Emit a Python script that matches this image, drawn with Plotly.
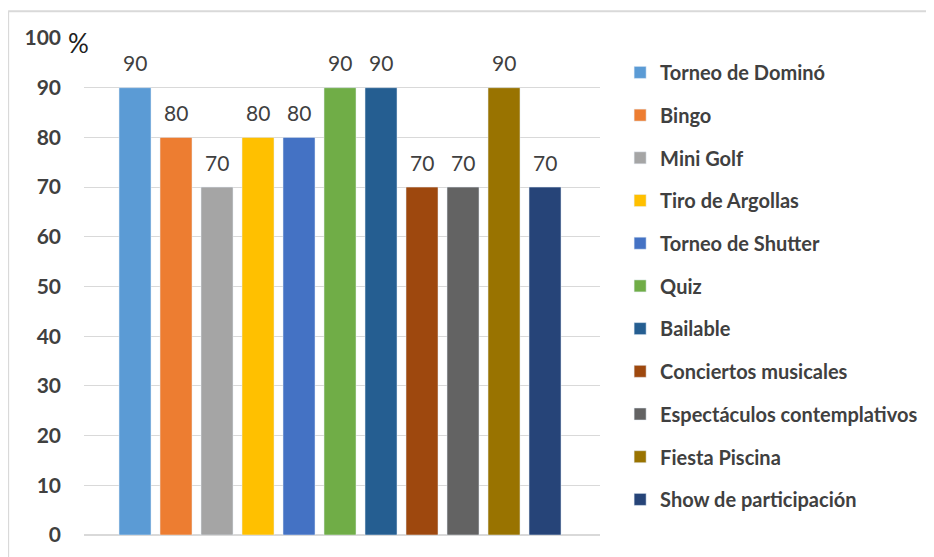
import plotly.graph_objects as go

actividades = ["Torneo de Dominó", "Bingo", "Mini Golf", "Tiro de Argollas",
               "Torneo de Shutter", "Quiz", "Bailable", "Conciertos musicales",
               "Espectáculos contemplativos", "Fiesta Piscina", "Show de participación"]
porcentajes = [90, 80, 70, 80, 80, 90, 90, 70, 70, 90, 70]
colores = ["#5B9BD5", "#ED7D31", "#A5A5A5", "#FFC000", "#4472C4", "#70AD47",
           "#255E91", "#9E480E", "#636363", "#997300", "#264478"]

fig = go.Figure()
for i, (nombre, valor, color) in enumerate(zip(actividades, porcentajes, colores)):
    fig.add_trace(go.Bar(x=[i], y=[valor], name=nombre, marker_color=color,
                         width=0.78, legendgroup=nombre, hoverinfo="name+y"))
    fig.add_annotation(x=i, y=valor, text=str(valor), showarrow=False, yshift=25,
                       font=dict(size=21, color="#404040", family="Lato"))

fig.add_annotation(xref="paper", yref="paper", x=-0.0097, y=0.99, text="%",
                   xanchor="center", yanchor="middle", showarrow=False,
                   font=dict(size=26, color="#202020", family="Lato"))

# borde del gráfico (solo arriba e izquierda)
fig.add_shape(type="line", xref="paper", yref="paper", x0=-0.147, x1=1.8,
              y0=1.054, y1=1.054, line=dict(color="#d9d9d9", width=2))
fig.add_shape(type="line", xref="paper", yref="paper", x0=-0.147, x1=-0.147,
              y0=-0.1, y1=1.054, line=dict(color="#d9d9d9", width=2))

fig.update_layout(
    width=934, height=557,
    margin=dict(l=76, r=342, t=30, b=30),
    plot_bgcolor="white", paper_bgcolor="white",
    showlegend=True,
    legend=dict(x=1.039, y=0.97, yanchor="top", xanchor="left",
                font=dict(size=20, color="#404040", family="Lato", weight="bold"),
                tracegroupgap=13.7, itemclick=False),
    xaxis=dict(range=[-1.244, 11.341], showticklabels=False, showgrid=False,
               zeroline=False, fixedrange=True),
    yaxis=dict(range=[0, 100], dtick=10, showgrid=True, gridcolor="#d9d9d9",
               gridwidth=1, zeroline=True, zerolinecolor="#d9d9d9",
               ticklabelstandoff=22,
               tickfont=dict(size=21, color="#404040", family="Lato", weight="bold")),
    font=dict(family="Lato"),
)

fig.write_html("out.html")
